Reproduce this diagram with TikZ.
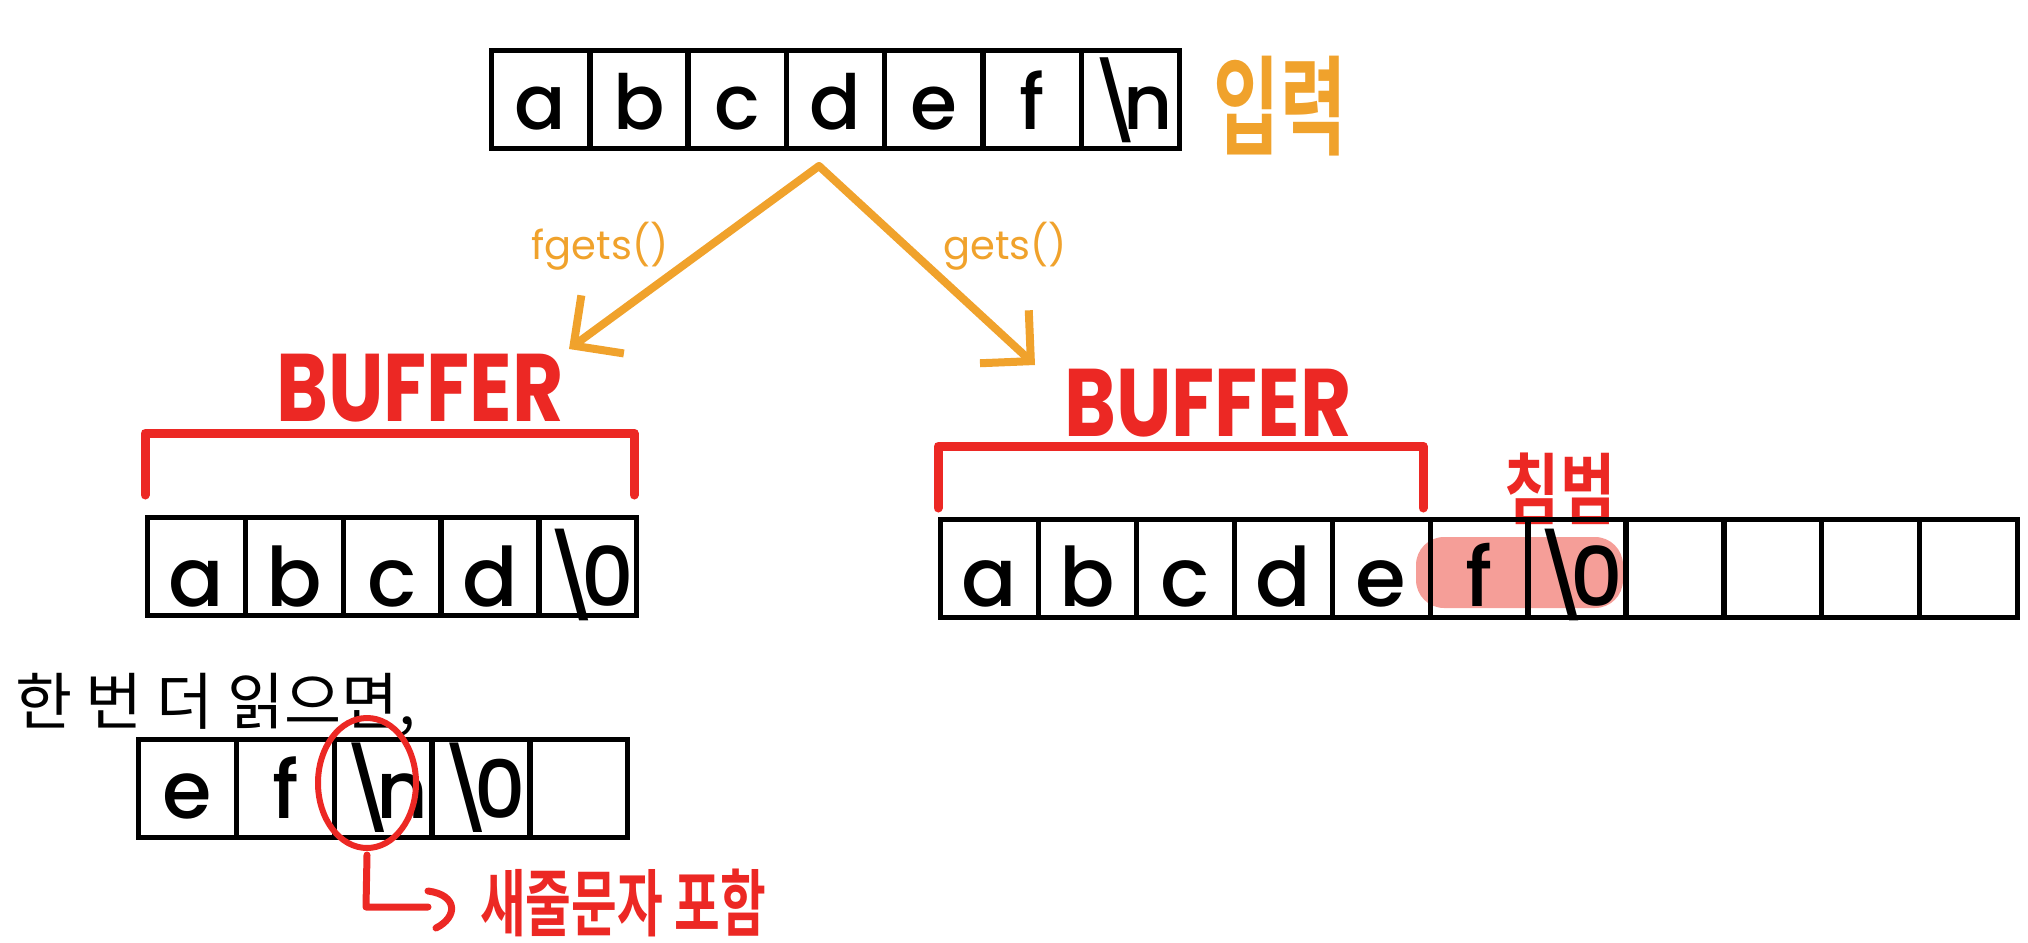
\documentclass[tikz,border=0pt]{standalone}
\usepackage{fontspec}
\setmainfont{Poppins}
\newfontfamily\hand{Poppins Medium}
\newfontfamily\kr{Noto Sans CJK KR}
\newfontfamily\krb{Noto Sans CJK KR Bold}
\usetikzlibrary{arrows.meta,shapes.geometric}
\definecolor{orng}{RGB}{240,162,44}
\definecolor{rd}{RGB}{236,40,36}
\definecolor{hl}{RGB}{245,158,152}
\newcommand{\bsl}[1]{\textbackslash\kern-0.24em#1}
\begin{document}
\begin{tikzpicture}[x=0.5pt,y=-0.5pt,
  cell/.style={draw=black,line width=2.6pt,minimum width=49pt,minimum height=49pt,
    inner sep=0pt,anchor=north west,font=\hand\fontsize{38}{40}\selectfont,text depth=0pt},
  toprow/.style={cell,text height=30pt},
  leftrow/.style={cell,text height=40pt,font=\hand\fontsize{41}{43}\selectfont},
  rightrow/.style={cell,text height=38pt,font=\hand\fontsize{41}{43}\selectfont},
  botrow/.style={cell,text height=30pt,font=\hand\fontsize{40}{42}\selectfont},
  flow/.style={orng,line width=4pt,line cap=round,-{Straight Barb[length=18pt,width=36pt]}},
  flowlabel/.style={orng,font=\fontsize{20}{22}\selectfont},
  buftext/.style={rd,font=\fontsize{48}{50}\selectfont\bfseries},
  bracket/.style={rd,line width=4.5pt,line cap=round,line join=round},
  redpen/.style={rd,line width=3.5pt,line cap=round,line join=round}]
\useasboundingbox (0,0) rectangle (2028,942);

% top input row
\foreach \c [count=\i] in {a,b,c,d,e,f,\bsl{n}}
  \node[toprow] (t\i) at ({489+(\i-1)*98.3},48) {\c};
\node[orng,font=\krb\fontsize{36}{38}\selectfont] (inp) at (1280,106) {\scalebox{1}[1.5]{입력}};

% arrows
\coordinate (apex) at (819,166);
\coordinate (ltip) at (569,349);
\coordinate (rtip) at (1035,365);
\draw[flow] (apex) -- (ltip);
\draw[flow] (apex) -- (rtip);
\node[flowlabel] (fg) at (600,246) {fgets()};
\node[flowlabel] (gs) at (1005,246) {gets()};

% left buffer
\node[buftext] (lbuf) at (420,388) {\scalebox{0.82}[1]{BUFFER}};
\draw[bracket] (145,495) -- (145,433) -- (634,433) -- (634,495);
\foreach \c [count=\i] in {a,b,c,d,\bsl{0}}
  \node[leftrow] (l\i) at ({145+(\i-1)*97.8},515) {\c};

% right buffer
\node[buftext] (rbuf) at (1208,403) {\scalebox{0.82}[1]{BUFFER}};
\draw[bracket] (938,508) -- (938,446) -- (1423,446) -- (1423,508);
\fill[hl,rounded corners=14pt] (1416,537) rectangle (1623,608);
\node[rd,font=\krb\fontsize{30}{32}\selectfont] (over) at (1560,489) {\scalebox{1}[1.3]{침범}};
\foreach \c [count=\i] in {a,b,c,d,e,f,\bsl{0},{},{},{},{}}
  \node[rightrow] (r\i) at ({938+(\i-1)*97.9},517) {\c};

% read again
\node[anchor=west,font=\kr\fontsize{31}{33}\selectfont] (again) at (8,705) {한 번 더 읽으면,};
\foreach \c [count=\i] in {e,f,\bsl{n},\bsl{0},{}}
  \node[botrow] (b\i) at ({136+(\i-1)*97.8},737) {\c};
\node[draw=rd,line width=3pt,ellipse,minimum width=49pt,minimum height=65pt,inner sep=0pt] (circ) at (367,783) {};
\coordinate (lcorner) at (366,907);
\coordinate (lend) at (428,907);
\draw[redpen] (circ.south) ++(0,4) -- (lcorner) -- (lend);
\draw[redpen] (428,891) .. controls (458,895) and (458,917) .. (436,928);
\node[rd,font=\krb\fontsize{27}{29}\selectfont] (nl) at (623,903) {\scalebox{0.92}[1.35]{새줄문자 포함}};
\end{tikzpicture}
\end{document}
